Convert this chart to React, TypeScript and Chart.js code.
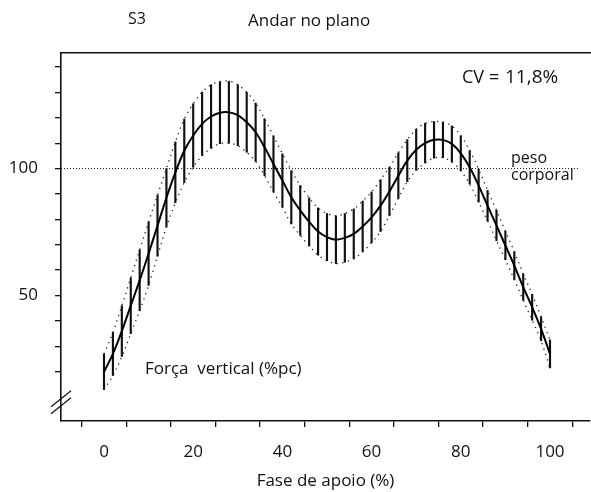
import React, { useEffect, useRef } from "react";
import { Chart, registerables } from "chart.js";

Chart.register(...registerables);

// Phase of stance (%)
const phase = [
  0, 2, 4, 6, 8, 10, 12, 14, 16, 18, 20, 22, 24, 26, 28, 30, 32, 34, 36, 38, 40,
  42, 44, 46, 48, 50, 52, 54, 56, 58, 60, 62, 64, 66, 68, 70, 72, 74, 76, 78, 80,
  82, 84, 86, 88, 90, 92, 94, 96, 98, 100,
];
// Mean vertical force (% body weight)
const meanForce = [
  20, 27, 36, 46, 56, 66.5, 77.5, 88.5, 98.5, 107, 113, 117.6, 120.5, 122, 122.2,
  121, 118.2, 114.3, 108.4, 101.8, 95.3, 88.7, 83.5, 79, 75.2, 73, 72, 72.7, 74.3,
  77.2, 80.8, 85.4, 91, 97.2, 103.1, 107.4, 110, 111.3, 111.3, 109.7, 106, 100.5,
  93.3, 85.4, 77.6, 69.7, 61.8, 53.3, 45.4, 36.9, 27,
];
// Standard deviation
const sdForce = [
  7, 8.5, 10, 11, 12, 12.5, 12, 11.5, 12, 12.5, 12.5, 12.5, 12.5, 12.2, 12.2, 12,
  11.8, 11.5, 11.2, 11, 10.5, 10.5, 9.8, 9.5, 9.3, 9.3, 9.4, 9.6, 9.8, 10, 10, 10.2,
  9.5, 9, 8.3, 8.1, 7.8, 7.2, 7, 7.1, 6.9, 6.6, 6.5, 6, 6, 5.6, 5.5, 5.2, 5.1, 4.7,
  5.5,
];
const bodyWeight = 100;
const xTickValues = [0, 10, 20, 30, 40, 50, 60, 70, 80, 90, 100];
const xTickLabels = ["0", "20", "40", "60", "80", "100"];
const yTickValues = [20, 30, 40, 50, 60, 70, 80, 90, 100, 110, 120, 130, 140];
const yTickLabels = ["50", "100"];

const FONT = "'Open Sans', 'DejaVu Sans', sans-serif";

const textPlugin = {
  id: "texts",
  afterDraw(chart: any) {
    const ctx = chart.ctx;
    ctx.save();
    ctx.fillStyle = "#111";
    ctx.textBaseline = "alphabetic";
    ctx.textAlign = "left";
    ctx.font = `16px ${FONT}`;
    ctx.fillText("S3", 128, 24);
    ctx.font = `17px ${FONT}`;
    ctx.fillText("Andar no plano", 248, 26);
    ctx.font = `18px ${FONT}`;
    ctx.fillText("CV", 462, 83);
    ctx.fillText("=", 489, 83);
    ctx.font = `19px ${FONT}`;
    ctx.fillText("11,8%", 505, 83);
    ctx.font = `16px ${FONT}`;
    ctx.fillText("peso", 511, 163);
    ctx.fillText("corporal", 511, 179.5);
    ctx.font = `17px ${FONT}`;
    ctx.fillText("Força  vertical (%pc)", 145, 374);

    // axis break marks on the y axis
    const ax = chart.chartArea.left;
    const y = chart.scales.y;
    const yb = y.getPixelForValue(8);
    ctx.strokeStyle = "#111";
    ctx.lineWidth = 1.3;
    for (const off of [-3.5, 3.5]) {
      ctx.beginPath();
      ctx.moveTo(ax - 10, yb + off + 8);
      ctx.lineTo(ax + 10, yb + off - 8);
      ctx.stroke();
    }
    ctx.restore();
  },
};

export default function App() {
  const ref = useRef<HTMLCanvasElement>(null);
  useEffect(() => {
    document.body.style.margin = "0";
    const upper = meanForce.map((m, i) => ({ x: phase[i], y: m + sdForce[i] }));
    const lower = meanForce.map((m, i) => ({ x: phase[i], y: m - sdForce[i] }));
    const mean = meanForce.map((m, i) => ({ x: phase[i], y: m }));
    const bars = meanForce.map((m, i) => ({
      x: phase[i],
      y: [m - sdForce[i], m + sdForce[i]],
    }));
    const xmin = -9.64;
    const xmax = 108.97;
    const chart = new Chart(ref.current!, {
      type: "line",
      data: {
        datasets: [
          {
            type: "bar",
            data: bars as any,
            backgroundColor: "#111",
            borderWidth: 0,
            barThickness: 1.5,
            order: 4,
          } as any,
          {
            data: [
              { x: xmin, y: bodyWeight },
              { x: 106.5, y: bodyWeight },
            ],
            borderColor: "#111",
            borderWidth: 1,
            borderDash: [1, 2],
            pointRadius: 0,
            order: 5,
          },
          {
            data: upper,
            borderColor: "#222",
            borderWidth: 1.3,
            borderDash: [1.3, 4.5],
            pointRadius: 0,
            tension: 0.35,
            order: 2,
          },
          {
            data: lower,
            borderColor: "#222",
            borderWidth: 1.3,
            borderDash: [1.3, 4.5],
            pointRadius: 0,
            tension: 0.35,
            order: 2,
          },
          {
            data: mean,
            borderColor: "#000",
            borderWidth: 2,
            pointRadius: 0,
            tension: 0.35,
            order: 1,
          },
        ],
      },
      options: {
        animation: false,
        responsive: false,
        layout: { padding: { left: 0, right: 1, top: 53, bottom: 0 } },
        plugins: { legend: { display: false }, tooltip: { enabled: false } },
        scales: {
          x: {
            type: "linear",
            min: xmin,
            max: xmax,
            offset: false,
            afterBuildTicks: (s: any) => {
              s.ticks = xTickValues.map((v) => ({ value: v }));
            },
            afterFit: (s: any) => {
              s.height = 71;
            },
            ticks: {
              autoSkip: false,
              maxRotation: 0,
              padding: 15,
              color: "#111",
              font: { family: FONT, size: 17 },
              callback: (v: any) => {
                const s = String(v);
                return xTickLabels.includes(s) ? s : "";
              },
            },
            grid: {
              display: true,
              drawOnChartArea: false,
              drawTicks: true,
              tickLength: 6,
              color: "#111",
              lineWidth: 1.3,
            },
            border: { display: true, color: "#111", width: 1.6 },
            title: {
              display: true,
              text: "Fase de apoio (%)",
              color: "#111",
              font: { family: FONT, size: 17 },
              padding: { top: 0, bottom: 1 },
            },
          },
          x2: {
            type: "linear",
            position: "top",
            min: xmin,
            max: xmax,
            afterFit: (s: any) => {
              s.height = 0;
            },
            ticks: { display: false },
            grid: { display: false, drawTicks: false },
            border: { display: true, color: "#111", width: 1.6 },
          },
          y: {
            type: "linear",
            min: 0.6,
            max: 145.5,
            afterBuildTicks: (s: any) => {
              s.ticks = yTickValues.map((v) => ({ value: v }));
            },
            afterFit: (s: any) => {
              s.width = 61;
            },
            ticks: {
              autoSkip: false,
              padding: 17,
              color: "#111",
              font: { family: FONT, size: 17 },
              callback: (v: any) => {
                const s = String(v);
                return yTickLabels.includes(s) ? s : "";
              },
            },
            grid: {
              display: true,
              drawOnChartArea: false,
              drawTicks: true,
              tickLength: 6,
              color: "#111",
              lineWidth: 1.3,
            },
            border: { display: true, color: "#111", width: 1.6 },
          },
        },
      },
      plugins: [textPlugin],
    } as any);
    return () => chart.destroy();
  }, []);
  return (
    <div style={{ width: 591, height: 492, background: "#fff" }}>
      <canvas ref={ref} width={591} height={492} style={{ display: "block" }} />
    </div>
  );
}
